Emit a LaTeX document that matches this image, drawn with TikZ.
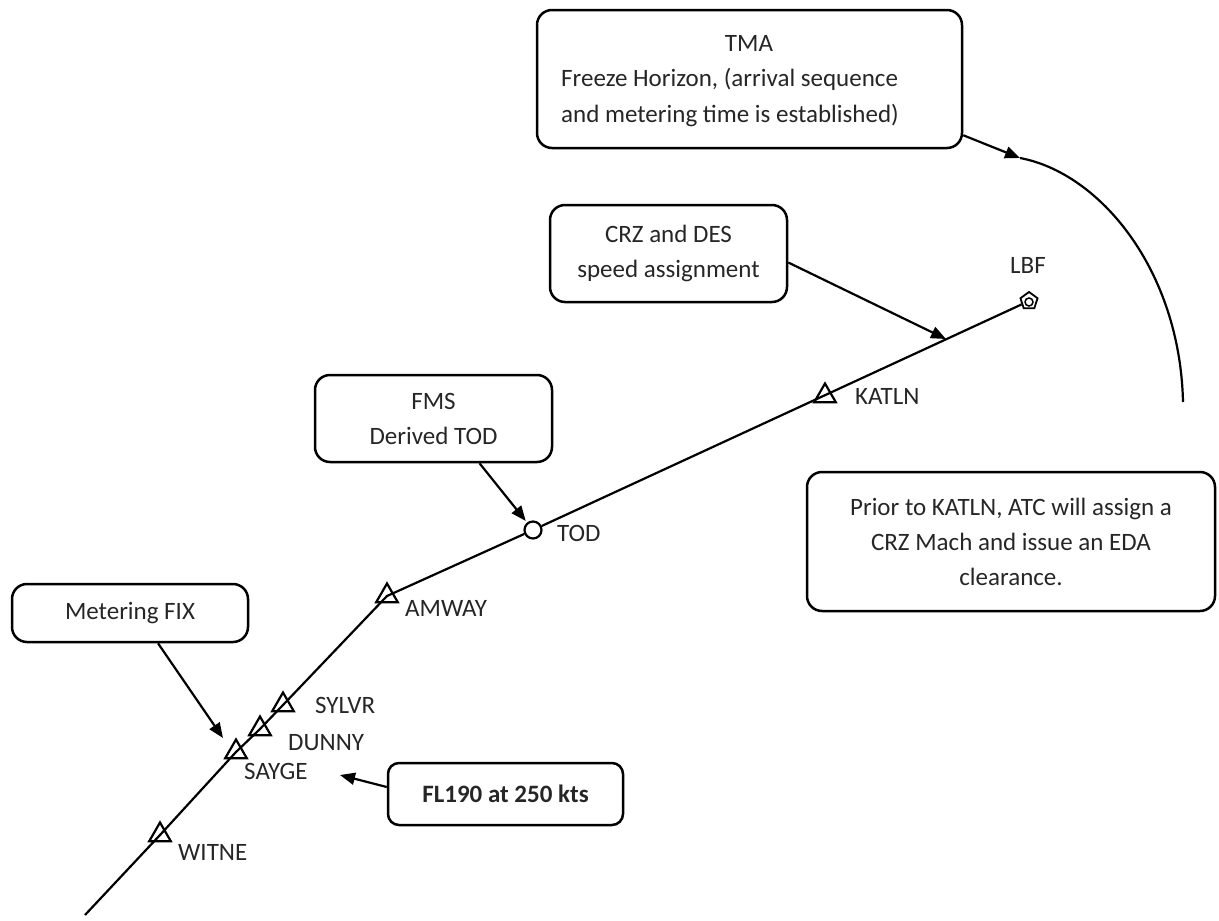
\documentclass[tikz,border=0pt]{standalone}
\usepackage{fontspec}
\setmainfont{Carlito}
\usetikzlibrary{arrows.meta,shapes.geometric}
\begin{document}
\begin{tikzpicture}[x=1pt,y=-1pt,
  txt/.style={font=\fontsize{25}{35}\selectfont, inner sep=0pt, text=black!85},
  box/.style={draw, line width=2.5pt, rounded corners=15pt, inner sep=0pt, txt, align=center},
  route/.style={line width=2.2pt},
  arr/.style={line width=2.2pt, -{Triangle[length=15pt,width=12pt]}},
  wpt/.style={draw, regular polygon, regular polygon sides=3, minimum size=25pt, inner sep=0pt, line width=2.2pt},
  wlbl/.style={txt, anchor=west},
]
\useasboundingbox (0,0) rectangle (1219,921);

% boxes
\node[box, minimum width=425pt, minimum height=138pt] (tma) at (749.5,79) {};
\node[txt] (tmat) at (749,43) {TMA};
\node[txt, anchor=base west] (tmal1) at (561,86) {Freeze Horizon, (arrival sequence};
\node[txt, anchor=base west] (tmal2) at (561,122) {and metering time is established)};

\node[box, minimum width=237pt, minimum height=97pt] (crz) at (668.5,253.5) {CRZ and DES\\speed assignment};
\node[box, minimum width=237pt, minimum height=87pt] (fms) at (433.5,418.5) {FMS\\Derived TOD};
\node[box, minimum width=236pt, minimum height=58pt] (met) at (130,613) {Metering FIX};
\node[box, minimum width=235pt, minimum height=62pt, rounded corners=11pt, font=\fontsize{25}{35}\selectfont\bfseries] (fl) at (505.5,794) {FL190 at 250 kts};
\node[box, minimum width=408pt, minimum height=139pt] (prior) at (1011,541.5) {Prior to KATLN, ATC will assign a\\CRZ Mach and issue an EDA\\clearance.};

% waypoints
\node[draw, regular polygon, regular polygon sides=5, minimum size=18pt, inner sep=0pt, line width=1.8pt] (lbf) at (1029,301) {};
\node[draw, circle, minimum size=8pt, inner sep=0pt, line width=1.5pt] (lbfc) at (1029,302) {};
\node[draw, circle, minimum size=17pt, inner sep=0pt, line width=2.2pt, fill=white] (tod) at (533,530) {};
\node[wpt] (katln) at (825,396) {};
\node[wpt] (amway) at (387,596) {};
\node[wpt] (sylvr) at (283,705) {};
\node[wpt] (dunny) at (260,729) {};
\node[wpt] (sayge) at (236,752) {};
\node[wpt] (witne) at (160,835) {};
\coordinate (rend) at (85,915);

% labels
\node[txt] (lbfl) at (1028,265) {LBF};
\node[wlbl] (katlnl) at (855,396) {KATLN};
\node[wlbl] (todl) at (557,533) {TOD};
\node[wlbl] (amwayl) at (405,608) {AMWAY};
\node[wlbl] (sylvrl) at (315,705) {SYLVR};
\node[wlbl] (dunnyl) at (288,743) {DUNNY};
\node[wlbl] (saygel) at (244,771) {SAYGE};
\node[wlbl] (witnel) at (178,852) {WITNE};

% route
\draw[route] (lbf) -- (tod);
\draw[route] (tod) -- (amway.center) -- (sylvr.center) -- (dunny.center) -- (sayge.center) -- (witne.center) -- (rend);

% arc
\coordinate (arcs) at (1020,158);
\coordinate (arce) at (1183,402);
\draw[route] (arcs) .. controls (1100,173) and (1180,270) .. (arce);

% arrows
\coordinate (crzhit) at (946,339);
\coordinate (mettip) at (223,738);
\coordinate (fltip) at (340,775);
\draw[arr] ([yshift=14pt]tma.south east) -- (arcs);
\draw[arr] ([yshift=-9pt]crz.east) -- (crzhit);
\draw[arr, shorten >=2pt] ([xshift=46pt]fms.south) -- (tod);
\draw[arr] ([xshift=28pt]met.south) -- (mettip);
\draw[arr] ([yshift=7pt]fl.west) -- (fltip);
\end{tikzpicture}
\end{document}
